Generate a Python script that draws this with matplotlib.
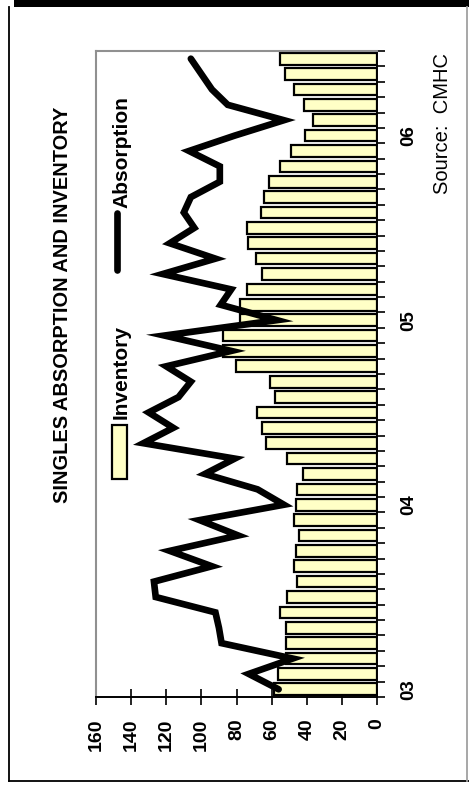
import matplotlib
matplotlib.use("Agg")
import matplotlib.pyplot as plt
from matplotlib.patches import Rectangle
from matplotlib.lines import Line2D
import numpy as np

plt.rcParams['font.family'] = ['Liberation Sans', 'DejaVu Sans']

# Monthly data, Jan 2003 - Jun 2006
year_labels = ['03', '04', '05', '06']
year_positions = [0, 12, 24, 36]

inventory = [58.5, 56.2, 52, 52, 52, 55.3, 51.5, 45.4, 47.1, 46.2, 44.3, 47.1,
             46.3, 45.4, 42.3, 51.5, 63.2, 65.3, 68.5, 58.1, 61, 80.3, 87.6, 87.9,
             78, 78, 74.2, 65.3, 68.9, 73.3, 74.2, 66.3, 64.2, 61.4, 55.1, 49.2,
             41, 36.3, 41.4, 47, 52.4, 55.3]

absorption = [56, 73, 48, 88.5, 90, 92, 126, 127, 94, 118, 79, 101,
              53, 68, 98, 81, 133, 116, 130, 113, 106, 120, 83, 121,
              57, 89, 83, 122, 92, 118, 104, 110, 106, 89.5, 89.5, 107,
              81, 53, 85, 94, 100, 106]

value_ticks = [0, 20, 40, 60, 80, 100, 120, 140, 160]

W, H = 469, 785
fig = plt.figure(figsize=(W / 100, H / 100), dpi=100)


def fx(x):
    return x / W


def fy(y):
    return 1 - y / H


# outer frame
fig.patches.append(Rectangle((fx(14), fy(7)), fx(469) - fx(14), fy(0) - fy(7),
                             transform=fig.transFigure, facecolor='black',
                             edgecolor='none'))
for (x0, y0, x1, y1, c) in [(9, 7, 9, 781, 'black'), (9, 781, 469, 781, 'black'),
                            (467, 7, 467, 781, '#a0a0a0')]:
    fig.lines.append(Line2D([fx(x0), fx(x1)], [fy(y0), fy(y1)],
                            transform=fig.transFigure, color=c, lw=1.3))

# plot area (rotated chart: values run right-to-left, months bottom-to-top)
ax = fig.add_axes([fx(96), fy(697), fx(377) - fx(96), fy(51) - fy(697)])
idx = np.arange(len(inventory))
ax.barh(idx, inventory, height=0.76, color='#FFFFC6', edgecolor='black',
        linewidth=1.6, zorder=2)
ax.plot(absorption, idx, color='black', lw=4.8, solid_joinstyle='miter',
        solid_capstyle='round', zorder=3)

ax.set_xlim(160, 0)
ax.set_ylim(-0.5, len(inventory) - 0.5)

# value axis along the bottom
ax.set_xticks(value_ticks)
ax.set_xticklabels([str(v) for v in value_ticks], rotation=90,
                   fontsize=14, fontweight='bold')
ax.tick_params(axis='x', direction='inout', length=11, width=1.2, pad=10)

# month axis along the right
ax.yaxis.tick_right()
ax.set_yticks(np.arange(-0.5, len(inventory), 1.0))
ax.set_yticklabels([])
ax.tick_params(axis='y', which='major', direction='out', length=6, width=1.2)
ax.set_yticks(year_positions, minor=True)
ax.set_yticklabels(year_labels, minor=True, rotation=90, fontsize=13.5,
                   fontweight='bold', va='center')
ax.tick_params(axis='y', which='minor', length=0, pad=17)

for s in ['left', 'top']:
    ax.spines[s].set_color('#909090')
    ax.spines[s].set_linewidth(1.5)
for s in ['right', 'bottom']:
    ax.spines[s].set_color('black')
    ax.spines[s].set_linewidth(1.4)

# legend
fig.patches.append(Rectangle((fx(112), fy(479)), fx(127) - fx(112), fy(425) - fy(479),
                             transform=fig.transFigure, facecolor='#FFFFC6',
                             edgecolor='black', lw=1.6))
fig.text(fx(121), fy(419), 'Inventory', rotation=90, ha='center', va='bottom',
         fontsize=15, fontweight='bold')
fig.lines.append(Line2D([fx(117), fx(117)], [fy(270), fy(213)],
                        transform=fig.transFigure, color='black', lw=4.8,
                        solid_capstyle='round'))
fig.text(fx(122), fy(208), 'Absorption', rotation=90, ha='center', va='bottom',
         fontsize=15, fontweight='bold')

# title and source
fig.text(fx(62), fy(305), 'SINGLES ABSORPTION AND INVENTORY', rotation=90,
         ha='center', va='center', fontsize=14.4, fontweight='bold')
fig.text(fx(442), fy(53), 'Source:  CMHC', rotation=90, ha='center', va='top',
         fontsize=14.5)

fig.savefig('out.png', dpi=100)
